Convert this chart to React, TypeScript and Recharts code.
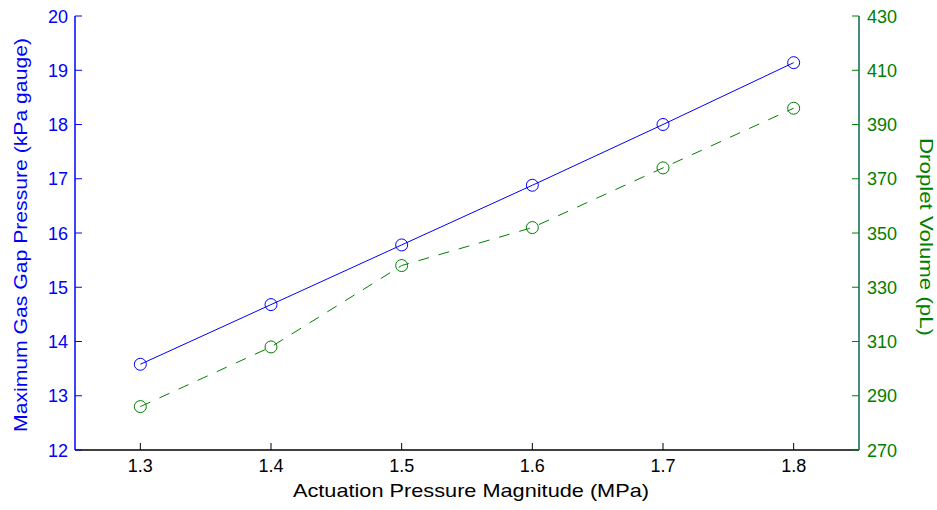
import { Line, LineChart, XAxis, YAxis } from "recharts";

const pressures = [1.3, 1.4, 1.5, 1.6, 1.7, 1.8];
const gapPressure = [13.58, 14.68, 15.78, 16.88, 18.0, 19.14];
const dropletVolume = [286, 308, 338, 352, 374, 396];

const xTicks = [1.3, 1.4, 1.5, 1.6, 1.7, 1.8];
const leftTicks = [12, 13, 14, 15, 16, 17, 18, 19, 20];
const rightTicks = [270, 290, 310, 330, 350, 370, 390, 410, 430];

const data = pressures.map((p, i) => ({
  p,
  gap: gapPressure[i],
  vol: dropletVolume[i],
}));

const FONT = "'Liberation Sans', Arial, sans-serif";
const BLUE = "#0000ff";
const GREEN = "#008000";
const TEAL = "#0b6458";

// ticks point into the plot, matlab style
const BottomTick = (props: any) => {
  const { x, y, payload } = props;
  return (
    <g>
      <line x1={x} y1={y} x2={x} y2={y - 7} stroke="#000" />
      <text x={x} y={y + 22} textAnchor="middle" fill="#000" fontSize={18} fontFamily={FONT}>
        {payload.value.toFixed(1)}
      </text>
    </g>
  );
};

const TopTick = (props: any) => {
  const { x, y } = props;
  return <line x1={x} y1={y} x2={x} y2={y + 7} stroke="#000" />;
};

const LeftTick = (props: any) => {
  const { x, y, payload } = props;
  return (
    <g>
      <line x1={x} y1={y} x2={x + 7} y2={y} stroke={BLUE} />
      <text x={x - 7} y={y + 6.5} textAnchor="end" fill={BLUE} fontSize={18} fontFamily={FONT}>
        {payload.value}
      </text>
    </g>
  );
};

const RightTick = (props: any) => {
  const { x, y, payload } = props;
  return (
    <g>
      <line x1={x} y1={y} x2={x - 7} y2={y} stroke={GREEN} />
      <text x={x + 8} y={y + 6.5} textAnchor="start" fill={GREEN} fontSize={18} fontFamily={FONT}>
        {payload.value}
      </text>
    </g>
  );
};

export default function App() {
  return (
    <div style={{ position: "absolute", left: 0, top: 0, background: "#fff" }}>
      <LineChart
        width={937}
        height={510}
        data={data}
        margin={{ top: 16, right: 0, bottom: 0, left: 0 }}
      >
        <XAxis
          dataKey="p"
          type="number"
          domain={[1.25, 1.85]}
          ticks={xTicks}
          height={60}
          tickSize={0.01}
          tickMargin={0}
          tickLine={false}
          axisLine={{ stroke: "#000", strokeWidth: 1.5 }}
          tick={<BottomTick />}
          label={{
            content: () => (
              <text
                x={471}
                y={497}
                textAnchor="middle"
                fill="#000"
                fontSize={19}
                fontFamily={FONT}
                textLength={356}
                lengthAdjust="spacingAndGlyphs"
              >
                Actuation Pressure Magnitude (MPa)
              </text>
            ),
          }}
        />
        <XAxis
          xAxisId="top"
          orientation="top"
          dataKey="p"
          type="number"
          domain={[1.25, 1.85]}
          ticks={xTicks}
          height={0}
          tickSize={0.01}
          tickMargin={0}
          tickLine={false}
          axisLine={{ stroke: "#000", strokeWidth: 1.5 }}
          tick={<TopTick />}
        />
        <YAxis
          yAxisId="left"
          domain={[12, 20]}
          ticks={leftTicks}
          width={75}
          tickSize={0.01}
          tickMargin={0}
          tickLine={false}
          axisLine={{ stroke: BLUE, strokeWidth: 1.5 }}
          tick={<LeftTick />}
          label={{
            content: () => (
              <text
                x={27}
                y={235}
                transform="rotate(-90 27 235)"
                textAnchor="middle"
                fill={BLUE}
                fontSize={19}
                fontFamily={FONT}
                textLength={394}
                lengthAdjust="spacingAndGlyphs"
              >
                Maximum Gas Gap Pressure (kPa gauge)
              </text>
            ),
          }}
        />
        <YAxis
          yAxisId="right"
          orientation="right"
          domain={[270, 430]}
          ticks={rightTicks}
          width={78}
          tickSize={0.01}
          tickMargin={0}
          tickLine={false}
          axisLine={{ stroke: TEAL, strokeWidth: 1.5 }}
          tick={<RightTick />}
          label={{
            content: () => (
              <text
                x={920}
                y={237}
                transform="rotate(90 920 237)"
                textAnchor="middle"
                fill={GREEN}
                fontSize={19}
                fontFamily={FONT}
                textLength={198}
                lengthAdjust="spacingAndGlyphs"
              >
                Droplet Volume (pL)
              </text>
            ),
          }}
        />
        <Line
          yAxisId="left"
          dataKey="gap"
          stroke={BLUE}
          strokeWidth={1}
          dot={{ r: 6, fill: "none", stroke: BLUE, strokeWidth: 1 }}
          activeDot={false}
          isAnimationActive={false}
        />
        <Line
          yAxisId="right"
          dataKey="vol"
          stroke={GREEN}
          strokeWidth={1}
          strokeDasharray="11 10"
          dot={{ r: 6, fill: "none", stroke: GREEN, strokeWidth: 1, strokeDasharray: "0" }}
          activeDot={false}
          isAnimationActive={false}
        />
      </LineChart>
    </div>
  );
}
